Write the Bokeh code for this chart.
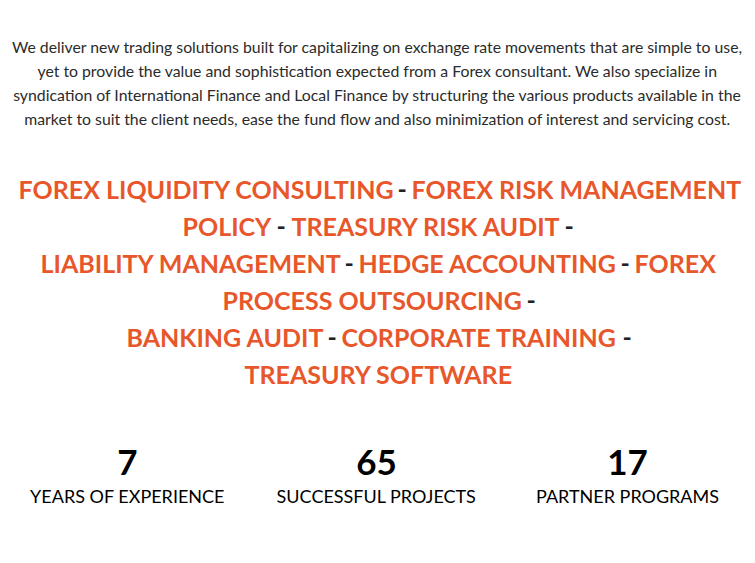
from bokeh.plotting import figure
from bokeh.models import Range1d
from bokeh.core.properties import value
from bokeh.embed import file_html
from bokeh.resources import INLINE

# intro paragraph, one entry per rendered line
intro_lines = [
    "We deliver new trading solutions built for capitalizing on exchange rate movements that are simple to use,",
    "yet to provide the value and sophistication expected from a Forex consultant. We also specialize in",
    "syndication of International Finance and Local Finance by structuring the various products available in the",
    "market to suit the client needs, ease the fund flow and also minimization of interest and servicing cost.",
]

# services, one list of segments per line ("-" is a dark separator)
service_lines = [
    ["FOREX LIQUIDITY CONSULTING", "-", "FOREX RISK MANAGEMENT"],
    ["POLICY", "-", "TREASURY RISK AUDIT", "-"],
    ["LIABILITY MANAGEMENT", "-", "HEDGE ACCOUNTING", "-", "FOREX"],
    ["PROCESS OUTSOURCING", "-"],
    ["BANKING AUDIT", "-", "CORPORATE TRAINING", "-"],
    ["TREASURY SOFTWARE"],
]
# left edge of each segment (page pixels)
service_x = [
    [18, 397, 411],
    [182, 276, 291, 564],
    [40, 344, 358, 620, 634],
    [222, 526],
    [126, 327, 341, 622],
    [244],
]

stat_numbers = ["7", "65", "17"]
stat_labels = ["YEARS OF EXPERIENCE", "SUCCESSFUL PROJECTS", "PARTNER PROGRAMS"]

ORANGE = "#e8572b"
DARK = "#222222"
FONT = "Lato"

W, H = 747, 555
p = figure(width=W, height=H, output_backend="svg", toolbar_location=None,
           x_range=Range1d(0, W), y_range=Range1d(H, 0),
           min_border=0)
p.axis.visible = False
p.grid.visible = False
p.outline_line_color = None
p.background_fill_color = "white"
p.border_fill_color = "white"

# paragraph
intro_y = [46, 70, 94, 118]
p.text(x=[377] * len(intro_lines), y=intro_y, text=intro_lines,
       text_font=value(FONT), text_font_size="15.8px", text_color="#2b2b2b",
       text_align="center", text_baseline="middle")

# services
line_y = [188, 225, 262, 299, 336, 373]
for segs, xs, yy in zip(service_lines, service_x, line_y):
    for s, xx in zip(segs, xs):
        p.text(x=[xx], y=[yy], text=[s], text_font=value(FONT),
               text_font_size="25px", text_font_style="bold",
               text_color=DARK if s == "-" else ORANGE,
               text_align="left", text_baseline="middle")

# stats
stat_x = [127, 376, 627]
p.text(x=stat_x, y=[462] * 3, text=stat_numbers, text_font=value(FONT),
       text_font_size="35px", text_font_style="bold", text_color="#000000",
       text_align="center", text_baseline="middle")
p.text(x=stat_x, y=[495] * 3, text=stat_labels, text_font=value(FONT),
       text_font_size="18px", text_color="#000000",
       text_align="center", text_baseline="middle")

open("out.html", "w").write(file_html(p, INLINE))
